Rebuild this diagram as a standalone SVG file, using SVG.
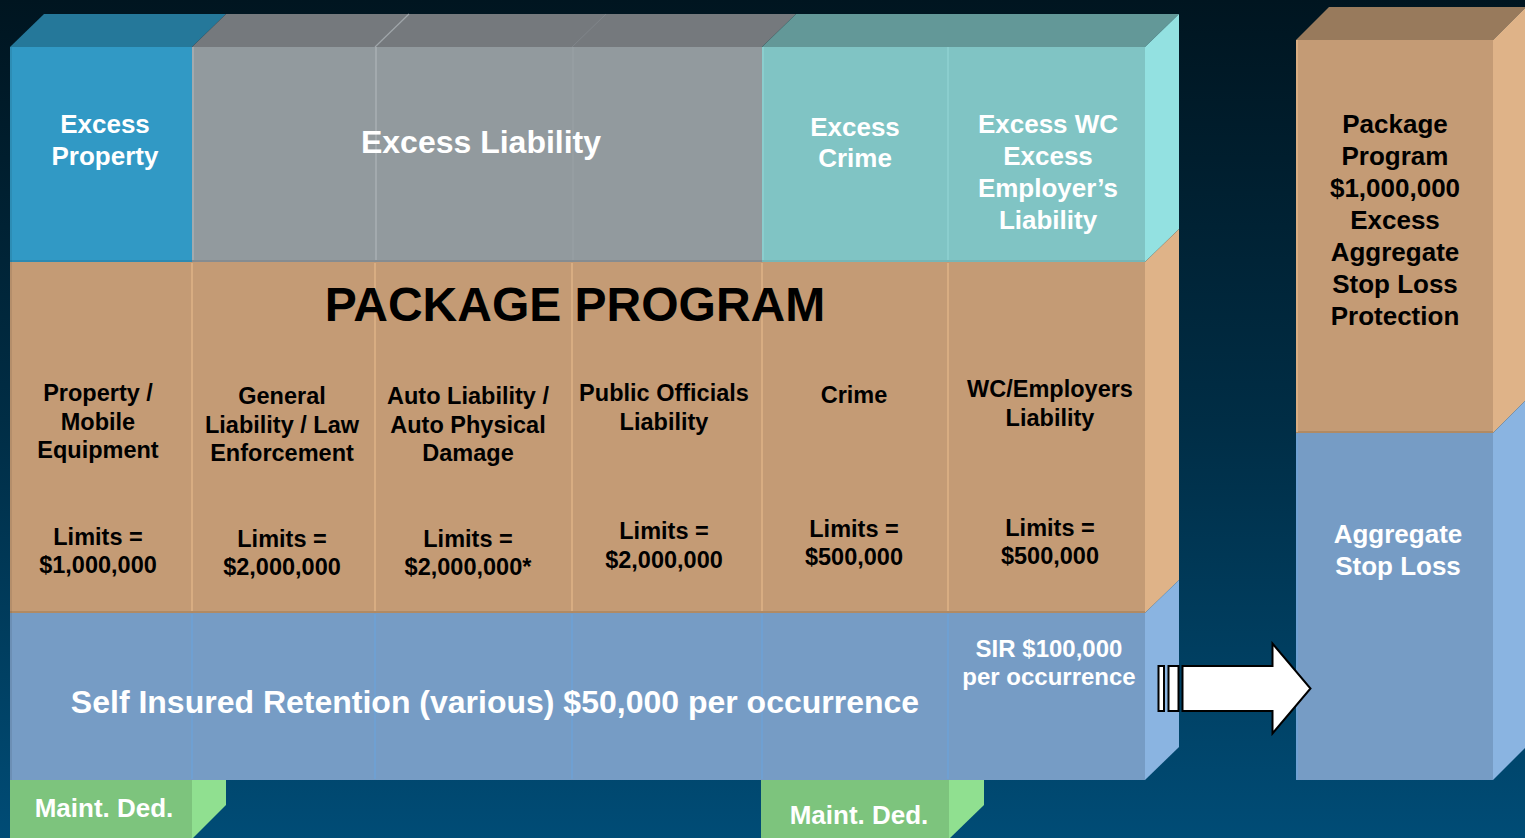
<svg xmlns="http://www.w3.org/2000/svg" width="1525" height="838" viewBox="0 0 1525 838">
<defs>
<linearGradient id="bg" x1="0" y1="0" x2="0" y2="1">
<stop offset="0" stop-color="#001520"/>
<stop offset="0.5" stop-color="#002d45"/>
<stop offset="1" stop-color="#004c76"/>
</linearGradient>
<style>
text{font-family:"Liberation Sans",Arial,sans-serif;font-weight:bold;text-anchor:middle}
.w{fill:#ffffff}
.k{fill:#000000}
.t26{font-size:26px}
.t24{font-size:23.5px}
.tanF{fill:#c49b75}
.tanS{fill:#dfb388}
.bluF{fill:#769cc5}
.bluS{fill:#8ab4e1}
.grnF{fill:#7dc47d}
.grnS{fill:#90e090}
.divT{stroke:#d8ad82;stroke-width:2}
.divB{stroke:#6fa0d2;stroke-width:2}
.divG{stroke:#a3aaae;stroke-width:2}
.divC{stroke:#8fd2d2;stroke-width:1.5}
</style>
</defs>
<rect x="0" y="0" width="1525" height="838" fill="url(#bg)"/>

<g id="main-block">
<!-- top faces -->
<polygon points="10,47 44,14 226,14 192,47" fill="#25789a"/>
<polygon points="192,47 226,14 796,14 762,47" fill="#75797d"/>
<polygon points="762,47 796,14 1179,14 1145,47" fill="#639898"/>
<line x1="375" y1="47" x2="409" y2="14" stroke="#a0a6aa" stroke-width="1.2"/>
<line x1="572" y1="47" x2="606" y2="14" stroke="#80858a" stroke-width="1"/>
<!-- side face -->
<polygon points="1145,47 1179,14 1179,229 1145,262" fill="#93e1e1"/>
<polygon points="1145,262 1179,229 1179,580 1145,613" class="tanS"/>
<polygon points="1145,613 1179,580 1179,747 1145,780" class="bluS"/>
<!-- front top row -->
<rect x="10" y="47" width="182" height="215" fill="#3199c5"/>
<rect x="192" y="47" width="570" height="215" fill="#929a9e"/>
<rect x="762" y="47" width="383" height="215" fill="#80c4c4"/>
<line x1="10" y1="261" x2="192" y2="261" stroke="#2d8ab2" stroke-width="2"/>
<line x1="192" y1="261" x2="762" y2="261" stroke="#868c90" stroke-width="2"/>
<line x1="762" y1="261" x2="1145" y2="261" stroke="#76b6b6" stroke-width="2"/>
<line x1="193" y1="47" x2="193" y2="260" class="divG"/>
<line x1="376" y1="47" x2="376" y2="260" class="divG"/>
<line x1="573" y1="47" x2="573" y2="260" stroke="#9aa2a6" stroke-width="1"/>
<line x1="763" y1="47" x2="763" y2="260" class="divC"/>
<line x1="948" y1="47" x2="948" y2="260" class="divC"/>
<!-- middle row -->
<rect x="10" y="262" width="1135" height="351" class="tanF"/>
<line x1="10" y1="612" x2="1145" y2="612" stroke="#b08a64" stroke-width="2"/>
<line x1="192" y1="263" x2="192" y2="611" class="divT"/>
<line x1="375" y1="263" x2="375" y2="611" class="divT"/>
<line x1="572" y1="263" x2="572" y2="611" class="divT"/>
<line x1="762" y1="263" x2="762" y2="611" class="divT"/>
<line x1="948" y1="263" x2="948" y2="611" class="divT"/>
<!-- bottom row -->
<rect x="10" y="613" width="1135" height="167" class="bluF"/>
<line x1="192" y1="614" x2="192" y2="779" class="divB"/>
<line x1="375" y1="614" x2="375" y2="779" class="divB"/>
<line x1="572" y1="614" x2="572" y2="779" class="divB"/>
<line x1="762" y1="614" x2="762" y2="779" class="divB"/>
<line x1="948" y1="614" x2="948" y2="779" class="divB"/>
<line x1="11" y1="47" x2="11" y2="780" stroke="#000000" stroke-opacity="0.08" stroke-width="2"/>
</g>

<g id="excess-property">
<text class="w t26" x="105" y="133">Excess</text>
<text class="w t26" x="105" y="165">Property</text>
</g>
<g id="excess-liability">
<text class="w" x="481" y="153" font-size="32">Excess Liability</text>
</g>
<g id="excess-crime">
<text class="w t26" x="855" y="136">Excess</text>
<text class="w t26" x="855" y="167">Crime</text>
</g>
<g id="excess-wc">
<text class="w t26" x="1048" y="133">Excess WC</text>
<text class="w t26" x="1048" y="165">Excess</text>
<text class="w t26" x="1048" y="197">Employer’s</text>
<text class="w t26" x="1048" y="229">Liability</text>
</g>
<g id="package-program">
<text class="k" x="575" y="321" font-size="48">PACKAGE PROGRAM</text>
</g>
<g id="property">
<text class="k t24" x="98" y="401">Property /</text>
<text class="k t24" x="98" y="430">Mobile</text>
<text class="k t24" x="98" y="458">Equipment</text>
<text class="k t24" x="98" y="545">Limits =</text>
<text class="k t24" x="98" y="573">$1,000,000</text>
</g>
<g id="general-liability">
<text class="k t24" x="282" y="404">General</text>
<text class="k t24" x="282" y="433">Liability / Law</text>
<text class="k t24" x="282" y="461">Enforcement</text>
<text class="k t24" x="282" y="547">Limits =</text>
<text class="k t24" x="282" y="575">$2,000,000</text>
</g>
<g id="auto-liability">
<text class="k t24" x="468" y="404">Auto Liability /</text>
<text class="k t24" x="468" y="433">Auto Physical</text>
<text class="k t24" x="468" y="461">Damage</text>
<text class="k t24" x="468" y="547">Limits =</text>
<text class="k t24" x="468" y="575">$2,000,000*</text>
</g>
<g id="public-officials">
<text class="k t24" x="664" y="401">Public Officials</text>
<text class="k t24" x="664" y="430">Liability</text>
<text class="k t24" x="664" y="539">Limits =</text>
<text class="k t24" x="664" y="568">$2,000,000</text>
</g>
<g id="crime">
<text class="k t24" x="854" y="403">Crime</text>
<text class="k t24" x="854" y="537">Limits =</text>
<text class="k t24" x="854" y="565">$500,000</text>
</g>
<g id="wc-employers">
<text class="k t24" x="1050" y="397">WC/Employers</text>
<text class="k t24" x="1050" y="426">Liability</text>
<text class="k t24" x="1050" y="536">Limits =</text>
<text class="k t24" x="1050" y="564">$500,000</text>
</g>
<g id="sir">
<text class="w" x="495" y="713" font-size="32">Self Insured Retention (various) $50,000 per occurrence</text>
</g>
<g id="sir-wc">
<text class="w" x="1049" y="657" font-size="24">SIR $100,000</text>
<text class="w" x="1049" y="685" font-size="24">per occurrence</text>
</g>

<g id="maint-ded-1">
<polygon points="192,780 226,780 226,805 192,839" class="grnS"/>
<rect x="10" y="780" width="182" height="58" class="grnF"/>
<text class="w t26" x="104" y="817">Maint. Ded.</text>
</g>
<g id="maint-ded-2">
<polygon points="949,780 984,780 984,805 949,839" class="grnS"/>
<rect x="761" y="780" width="188" height="58" class="grnF"/>
<text class="w t26" x="859" y="824">Maint. Ded.</text>
</g>

<g id="aggregate-block">
<polygon points="1296,40 1329,7 1526,7 1493,40" fill="#987a5c"/>
<polygon points="1493,40 1526,7 1526,400 1493,433" class="tanS"/>
<polygon points="1493,433 1526,400 1526,747 1493,780" class="bluS"/>
<rect x="1296" y="40" width="197" height="393" class="tanF"/>
<rect x="1296" y="433" width="197" height="347" class="bluF"/>
<line x1="1296" y1="432" x2="1493" y2="432" stroke="#b08a64" stroke-width="2"/>
<line x1="1297" y1="40" x2="1297" y2="432" stroke="#d8ad82" stroke-width="2"/>
<line x1="1297" y1="434" x2="1297" y2="780" stroke="#6fa0d2" stroke-width="2"/>
<text class="k t26" x="1395" y="133">Package</text>
<text class="k t26" x="1395" y="165">Program</text>
<text class="k t26" x="1395" y="197">$1,000,000</text>
<text class="k t26" x="1395" y="229">Excess</text>
<text class="k t26" x="1395" y="261">Aggregate</text>
<text class="k t26" x="1395" y="293">Stop Loss</text>
<text class="k t26" x="1395" y="325">Protection</text>
<text class="w t26" x="1398" y="543">Aggregate</text>
<text class="w t26" x="1398" y="575">Stop Loss</text>
</g>

<g id="connectors">
<rect x="1158.5" y="666" width="5.5" height="45" fill="#ffffff" stroke="#000000" stroke-width="2"/>
<rect x="1168.5" y="666" width="10" height="45" fill="#ffffff" stroke="#000000" stroke-width="2"/>
<polygon points="1182.5,666 1272.5,666 1272.5,643.5 1310.5,688.5 1272.5,733.5 1272.5,711 1182.5,711" fill="#ffffff" stroke="#000000" stroke-width="2"/>
</g>
</svg>
